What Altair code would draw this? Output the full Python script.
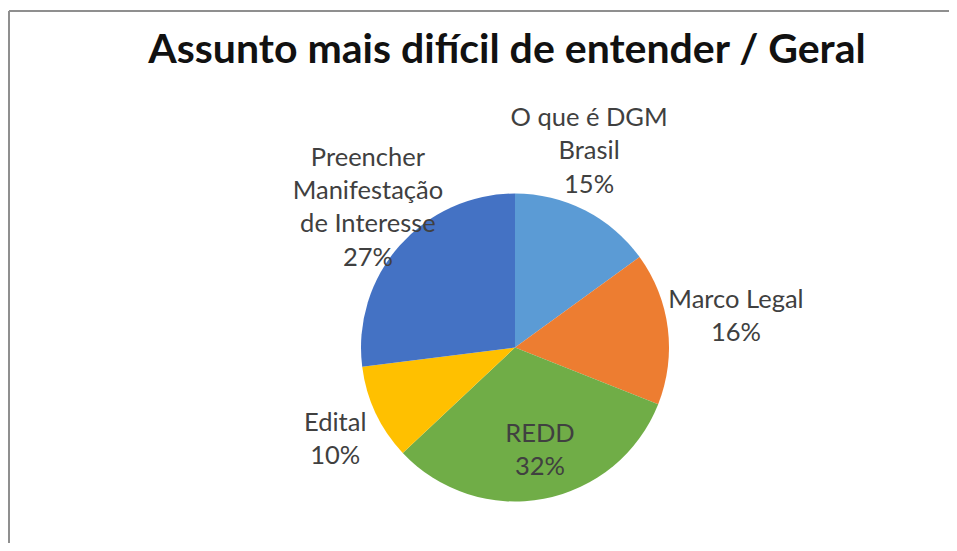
import altair as alt
import pandas as pd

# ---- data ----
title_text = "Assunto mais difícil de entender / Geral"
categories = ["O que é DGM Brasil", "Marco Legal", "REDD", "Edital",
              "Preencher Manifestação de Interesse"]
label_lines = [["O que é DGM", "Brasil"], ["Marco Legal"], ["REDD"], ["Edital"],
               ["Preencher", "Manifestação", "de Interesse"]]
shares = [15, 16, 32, 10, 27]
colors = ["#5B9BD5", "#ED7D31", "#70AD47", "#FFC000", "#4472C4"]

# ---- label layout (first-line distance from pie centre in px, angle nudge in degrees) ----
label_radius = [241, 226, 90, 195, 240]
label_nudge = [-9.1, -4.9, -5.3, 2.4, 10.8]

CX, CY, R = 507, 339.5, 154
FONT = "Lato"

total = sum(shares)
rows = []
cum = 0
for i, (c, ll, v) in enumerate(zip(categories, label_lines, shares)):
    mid = (cum + v / 2) / total * 360
    cum += v
    rows.append({
        "cat": c, "value": v, "order": i,
        "label": "\n".join(ll + [f"{v}%"]),
        "angle": mid + label_nudge[i],
        "lr": label_radius[i],
    })
df = pd.DataFrame(rows)

pie = alt.Chart(df).mark_arc(radius=R, stroke=None).encode(
    theta=alt.Theta("value:Q", stack=True),
    order=alt.Order("order:Q"),
    color=alt.Color("cat:N", scale=alt.Scale(domain=categories, range=colors), legend=None),
    x=alt.value(CX), y=alt.value(CY),
)

labels = alt.Chart(df).mark_text(
    font=FONT, fontSize=25.5, color="#404040", lineBreak="\n", lineHeight=33.3,
    align="center", baseline="middle",
).encode(
    theta=alt.Theta("angle:Q", stack=None,
                    scale=alt.Scale(domain=[0, 360], range=[0, 6.283185307179586])),
    radius=alt.Radius("lr:Q", scale=None),
    text="label:N",
    x=alt.value(CX), y=alt.value(CY),
)

tdf = pd.DataFrame({"t": [title_text]})
title = alt.Chart(tdf).mark_text(
    font=FONT, fontSize=41, fontWeight="bold", color="#111111",
    align="center", baseline="alphabetic",
).encode(text="t:N", x=alt.value(499), y=alt.value(55))

border_top = alt.Chart(tdf).mark_rule(color="#8f8f8f", strokeWidth=2).encode(
    x=alt.value(1), x2=alt.value(960), y=alt.value(3))
border_left = alt.Chart(tdf).mark_rule(color="#8f8f8f", strokeWidth=2).encode(
    x=alt.value(1), y=alt.value(3), y2=alt.value(560))

chart = alt.layer(border_top, border_left, pie, labels, title).resolve_scale(
    theta="independent", radius="independent", color="independent"
).properties(
    width=941, height=535, padding=0,
    autosize=alt.AutoSizeParams(type="fit", contains="padding"),
).configure_view(stroke=None)

chart.save("out.html", embed_options={"renderer": "svg", "actions": False})
